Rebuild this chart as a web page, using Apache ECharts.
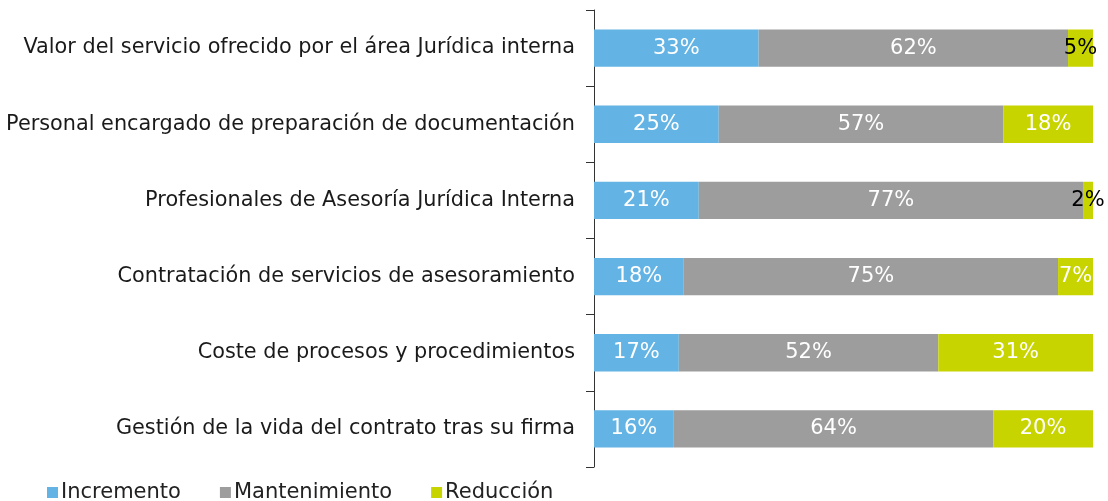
<!DOCTYPE html>
<html>
<head>
<meta charset="utf-8">
<script src="https://cdn.jsdelivr.net/npm/echarts@6/dist/echarts.min.js"></script>
<style>
  html, body { margin: 0; padding: 0; background: #fff; }
  #chart { width: 1108px; height: 501px; }
</style>
</head>
<body>
<div id="chart"></div>
<script>
const categories = [
  'Valor del servicio ofrecido por el área Jurídica interna',
  'Personal encargado de preparación de documentación',
  'Profesionales de Asesoría Jurídica Interna',
  'Contratación de servicios de asesoramiento',
  'Coste de procesos y procedimientos',
  'Gestión de la vida del contrato tras su firma'
]
const incremento = [33, 25, 21, 18, 17, 16]
const mantenimiento = [62, 57, 77, 75, 52, 64]
const reduccion = [5, 18, 2, 7, 31, 20]

const font = '"DejaVu Sans", Verdana, sans-serif'

// small segments get a dark label, like the original
function labelled (values, threshold) {
  return values.map(v => ({
    value: v,
    label: { color: v < threshold ? '#000' : '#fff' }
  }))
}

function makeSeries (name, values, color) {
  return {
    name: name,
    type: 'bar',
    stack: 'total',
    barWidth: '49%',
    itemStyle: { color: color },
    label: {
      show: true,
      position: 'inside',
      formatter: '{c}%',
      fontFamily: font,
      fontSize: 21,
      color: '#fff'
    },
    data: labelled(values, 6)
  }
}

const chart = echarts.init(document.getElementById('chart'))
chart.setOption({
  animation: false,
  grid: { left: 594, right: 15, top: 10, bottom: 34, containLabel: false, outerBoundsMode: 'none' },
  legend: {
    left: 47,
    top: 482,
    padding: 0,
    itemWidth: 11,
    itemHeight: 11,
    itemGap: 39,
    icon: 'rect',
    textStyle: { fontFamily: font, fontSize: 21, color: '#222', padding: [0, 0, 0, -2] },
    data: ['Incremento', 'Mantenimiento', 'Reducción']
  },
  xAxis: {
    type: 'value',
    min: 0,
    max: 100,
    show: false
  },
  yAxis: {
    type: 'category',
    inverse: true,
    data: categories,
    axisLine: { show: true, lineStyle: { color: '#333', width: 1 } },
    axisTick: { show: true, length: 8, lineStyle: { color: '#333' } },
    axisLabel: { fontFamily: font, fontSize: 20.8, color: '#1a1a1a', margin: 19 }
  },
  series: [
    makeSeries('Incremento', incremento, '#63b4e4'),
    makeSeries('Mantenimiento', mantenimiento, '#9d9d9e'),
    makeSeries('Reducción', reduccion, '#c8d400')
  ]
})
</script>
</body>
</html>
